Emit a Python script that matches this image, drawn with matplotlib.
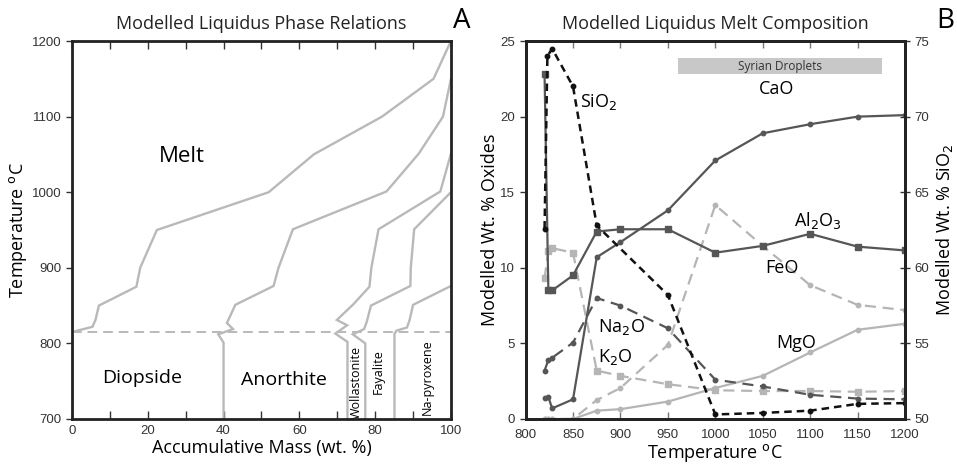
import matplotlib
matplotlib.use('Agg')
import matplotlib.pyplot as plt
from matplotlib.patches import Rectangle

LABEL_FONT = ['Open Sans', 'DejaVu Sans']
TICK_FONT = ['Liberation Sans', 'DejaVu Sans']

DARK = '#565656'
LIGHT = '#b5b5b5'
PHASE = '#b9b9b9'

# Panel A: phase boundaries (accumulative mass wt.%, temperature C)
diopside_mass = [0, 0, 5.4, 6.2, 7.1, 17.0, 18.0, 22.4, 51.9, 63.8, 81.8, 95.4, 100]
diopside_temp = [700, 815, 822, 831, 850, 875, 900, 950, 1000, 1050, 1100, 1150, 1200]
anorthite_mass = [40, 40, 38.6, 42.5, 40.9, 43.1, 53.2, 54.5, 58.3, 83.0, 91.5, 97.9, 100]
anorthite_temp = [700, 801, 812, 819, 827, 851, 876, 900, 951, 1001, 1051, 1100, 1150]
wollastonite_mass = [72.7, 72.7, 69.5, 72.6, 69.9, 74.3, 78.5, 79.0, 80.9, 97.2, 100]
wollastonite_temp = [700, 802, 813, 824, 831, 852, 875, 900, 951, 1001, 1051]
fayalite_mass = [77.4, 77.4, 74.1, 77.1, 77.8, 78.9, 89.3, 89.4, 90.3, 100]
fayalite_temp = [700, 800, 812, 819, 829, 850, 876, 900, 951, 1000]
napyroxene_mass = [85.1, 85.1, 85.7, 88.4, 89.1, 90.0, 100]
napyroxene_temp = [700, 813, 817, 821, 831, 851, 876]
liquidus_temp = 815

# Panel B: melt composition vs temperature
temps = [820, 824, 828, 850, 875, 900, 950, 1000, 1050, 1100, 1150, 1200]
cao = [1.4, 1.45, 0.7, 1.3, 10.7, 11.7, 13.8, 17.1, 18.9, 19.5, 20.0, 20.1]
al2o3 = [22.8, 8.5, 8.5, 9.5, 12.4, 12.55, 12.55, 11.0, 11.45, 12.25, 11.4, 11.15]
na2o = [3.2, 3.9, 4.05, 5.05, 8.0, 7.5, 6.0, 2.6, 2.15, 1.6, 1.35, 1.3]
k2o = [9.3, 11.1, 11.3, 11.0, 3.2, 2.85, 2.3, 1.9, 1.85, 1.85, 1.8, 1.85]
feo = [0, 0, 0, 0, 1.25, 2.05, 4.9, 14.15, 11.45, 8.85, 7.55, 7.2]
mgo = [0, 0, 0, 0, 0.55, 0.65, 1.15, 2.05, 2.85, 4.4, 5.9, 6.3]
sio2_temps = [820, 823, 828, 850, 875, 950, 1000, 1050, 1100, 1150, 1200]
sio2 = [62.6, 74.0, 74.5, 72.0, 62.8, 58.2, 50.3, 50.4, 50.55, 51.0, 51.05]

fig = plt.figure(figsize=(9.57, 4.66), dpi=100, facecolor='white')
ax_a = fig.add_axes([0.0752, 0.1009, 0.396, 0.811])
ax_b = fig.add_axes([0.5492, 0.1009, 0.3965, 0.811])


def style_frame(ax):
    for side in ax.spines.values():
        side.set_linewidth(2.0)
        side.set_color('#222222')
        side.set_zorder(5)


# ---------- Panel A ----------
boundaries = [(diopside_mass, diopside_temp), (anorthite_mass, anorthite_temp),
              (wollastonite_mass, wollastonite_temp), (fayalite_mass, fayalite_temp),
              (napyroxene_mass, napyroxene_temp)]
for mass, temp in boundaries:
    ax_a.plot(mass, temp, color=PHASE, lw=1.7, solid_joinstyle='miter', zorder=2)
ax_a.axhline(liquidus_temp, color=PHASE, lw=1.4, ls=(0, (5, 3)), zorder=2)

ax_a.set_xlim(0, 100)
ax_a.set_ylim(700, 1200)
ax_a.set_xticks(range(0, 101, 20))
ax_a.set_xticks(range(10, 100, 20), minor=True)
ax_a.set_yticks(range(700, 1201, 100))
ax_a.tick_params(axis='x', which='both', direction='in', top=True, length=6, width=1, color='#333333', pad=4)
ax_a.tick_params(axis='y', direction='out', length=4, width=1, color='#333333')
style_frame(ax_a)

ax_a.text(29, 1047, 'Melt', fontsize=16, ha='center', va='center', family=LABEL_FONT)
ax_a.text(18.6, 754, 'Diopside', fontsize=14, ha='center', va='center', family=LABEL_FONT)
ax_a.text(56, 751, 'Anorthite', fontsize=14, ha='center', va='center', family=LABEL_FONT)
ax_a.text(74.9, 749, 'Wollastonite', fontsize=9, rotation=90, ha='center', va='center', family=LABEL_FONT)
ax_a.text(80.9, 763, 'Fayalite', fontsize=9, rotation=90, ha='center', va='center', family=LABEL_FONT)
ax_a.text(93.7, 756, 'Na-pyroxene', fontsize=9, rotation=90, ha='center', va='center', family=LABEL_FONT)

ax_a.set_xlabel('Accumulative Mass (wt. %)', fontsize=13, family=LABEL_FONT, labelpad=2)
ax_a.set_ylabel('Temperature $^{\\mathrm{o}}$C', fontsize=13, family=LABEL_FONT, labelpad=2)
ax_a.set_title('Modelled Liquidus Phase Relations', fontsize=13, family=LABEL_FONT, pad=9, color='#222222')

# ---------- Panel B ----------
ax_b.add_patch(Rectangle((961, 22.8), 215, 1.06, facecolor='#c8c8c8', edgecolor='none', zorder=1))
ax_b.text(1068.5, 23.33, 'Syrian Droplets', fontsize=8.5, ha='center', va='center',
          family=LABEL_FONT, color='#333333', zorder=2)

ax_b.plot(temps, mgo, color=LIGHT, lw=1.6, marker='o', ms=3.2, zorder=3)
ax_b.plot(temps, feo, color=LIGHT, lw=1.6, ls=(0, (5, 3)), marker='o', ms=3.2, zorder=3)
ax_b.plot(temps, k2o, color=LIGHT, lw=1.6, ls=(0, (5, 3)), marker='s', ms=4, zorder=3)
ax_b.plot(temps, na2o, color=DARK, lw=1.6, ls=(0, (5, 3)), marker='o', ms=3.2, zorder=4)
ax_b.plot(temps, cao, color=DARK, lw=1.6, marker='o', ms=3.2, zorder=4)
ax_b.plot(temps, al2o3, color=DARK, lw=1.6, marker='s', ms=4.2, zorder=4)

ax_b.set_xlim(800, 1200)
ax_b.set_ylim(0, 25)
ax_b.set_xticks(range(800, 1201, 50))
ax_b.set_yticks(range(0, 26, 5))
ax_b.tick_params(axis='x', direction='in', top=True, length=5, width=1, color='#777777', pad=7)
ax_b.tick_params(axis='y', direction='out', length=4, width=1, color='#333333')
style_frame(ax_b)

ax_s = ax_b.twinx()
ax_s.plot(sio2_temps, sio2, color='#111111', lw=1.8, ls=(0, (3, 2)), marker='o', ms=3.2, zorder=5)
ax_s.set_ylim(50, 75)
ax_s.set_yticks(range(50, 76, 5))
ax_s.tick_params(axis='y', direction='inout', length=7, width=1, color='#333333', pad=3)
style_frame(ax_s)

ax_b.text(877, 21.0, 'SiO$_2$', fontsize=13, ha='center', va='center', family=LABEL_FONT)
ax_b.text(1065, 21.8, 'CaO', fontsize=13, ha='center', va='center', family=LABEL_FONT)
ax_b.text(1108, 13.1, 'Al$_2$O$_3$', fontsize=13, ha='center', va='center', family=LABEL_FONT)
ax_b.text(1070, 10.0, 'FeO', fontsize=13, ha='center', va='center', family=LABEL_FONT)
ax_b.text(901, 6.1, 'Na$_2$O', fontsize=13, ha='center', va='center', family=LABEL_FONT)
ax_b.text(895, 4.1, 'K$_2$O', fontsize=13, ha='center', va='center', family=LABEL_FONT)
ax_b.text(1085, 5.0, 'MgO', fontsize=13, ha='center', va='center', family=LABEL_FONT)

ax_b.set_xlabel('Temperature $^{\\mathrm{o}}$C', fontsize=13, family=LABEL_FONT, labelpad=1)
ax_b.set_ylabel('Modelled Wt. % Oxides', fontsize=13, family=LABEL_FONT, labelpad=1)
ax_s.set_ylabel('Modelled Wt. % SiO$_2$', fontsize=13, family=LABEL_FONT, labelpad=4)
ax_b.set_title('Modelled Liquidus Melt Composition', fontsize=13, family=LABEL_FONT, pad=9, color='#222222')

for ax in (ax_a, ax_b, ax_s):
    for lab in ax.get_xticklabels() + ax.get_yticklabels():
        lab.set_family(TICK_FONT)
        lab.set_fontsize(9.5)
        lab.set_color('#333333')

fig.text(0.483, 0.955, 'A', fontsize=20, ha='center', va='center', family=LABEL_FONT)
fig.text(0.988, 0.955, 'B', fontsize=20, ha='center', va='center', family=LABEL_FONT)

fig.savefig('out.png', dpi=100, facecolor='white')
